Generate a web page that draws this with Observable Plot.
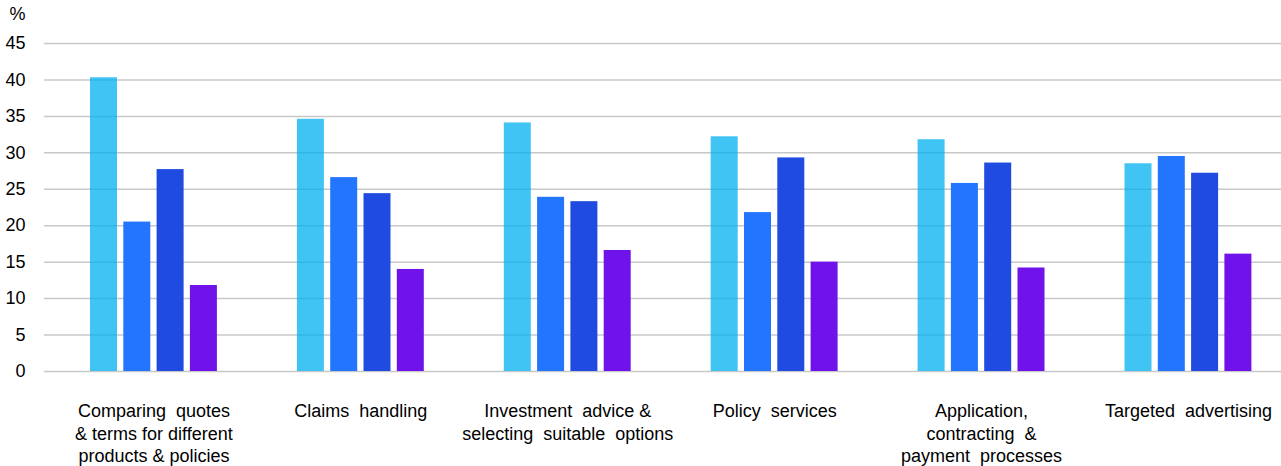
<!DOCTYPE html>
<html>
<head>
<meta charset="utf-8">
<script src="https://cdn.jsdelivr.net/npm/d3@7"></script>
<script src="https://cdn.jsdelivr.net/npm/@observablehq/plot@0.6"></script>
<style>
  html, body { margin: 0; padding: 0; background: #fff; }
  #chart svg { display: block; font-family: "Liberation Sans", Arial, sans-serif; }
</style>
</head>
<body>
<div id="chart"></div>
<script>
const categories = [
  "Comparing quotes & terms for different products & policies",
  "Claims handling",
  "Investment advice & selecting suitable options",
  "Policy services",
  "Application, contracting & payment processes",
  "Targeted advertising"
];
const tickLabels = [
  "Comparing  quotes\n& terms for different\nproducts & policies",
  "Claims  handling",
  "Investment  advice &\nselecting  suitable  options",
  "Policy  services",
  "Application,\ncontracting  &\npayment  processes",
  "Targeted  advertising"
];
const seriesNames = ["Series 1", "Series 2", "Series 3", "Series 4"];
const series1 = [40.3, 34.6, 34.1, 32.2, 31.8, 28.5];
const series2 = [20.5, 26.6, 23.9, 21.8, 25.8, 29.5];
const series3 = [27.7, 24.4, 23.3, 29.3, 28.6, 27.2];
const series4 = [11.8, 14.0, 16.6, 15.0, 14.2, 16.1];
const yTicks = [0, 5, 10, 15, 20, 25, 30, 35, 40, 45];

const allSeries = [series1, series2, series3, series4];
const colors = ["#00B0F0", "#2375FE", "#1F4BE0", "#7013EA"];
const opacities = [0.75, 1, 1, 1];

const rows = allSeries.map((vals, k) =>
  categories.map((c, i) => ({category: c, series: seriesNames[k], value: vals[i]})));

const step = 206.9;
const barMarks = rows.map((data, k) =>
  Plot.barY(data, {
    x: "category",
    y: "value",
    fill: colors[k],
    fillOpacity: opacities[k],
    insetLeft: 40 + 33.3 * k,
    insetRight: step - (67 + 33.3 * k)
  }));

const labelOf = new Map(categories.map((c, i) => [c, tickLabels[i]]));

const chart = Plot.plot({
  width: 1281,
  height: 466,
  marginLeft: 44,
  marginRight: 0,
  marginTop: 43,
  marginBottom: 95,
  style: {fontFamily: "'Liberation Sans', Arial, sans-serif", fontSize: "18px", color: "#000", background: "#fff"},
  x: {type: "band", domain: categories, range: [50, 50 + 6 * step], padding: 0, round: false},
  y: {domain: [0, 45]},
  marks: [
    Plot.gridY(yTicks, {stroke: "#c8c8c8", strokeOpacity: 1, strokeWidth: 1.5}),
    ...barMarks,
    Plot.axisY(yTicks, {tickSize: 0, tickPadding: 19, fontSize: 18, fill: "#000", label: null}),
    Plot.axisX({
      tickSize: 0, tickPadding: 30, fontSize: 18, fill: "#000", label: null,
      lineHeight: 1.25, lineAnchor: "top", textAnchor: "middle",
      tickFormat: d => labelOf.get(d)
    }),
    Plot.text(["%"], {frameAnchor: "top-left", dx: -27, dy: -36, text: d => d, fontSize: 18, fill: "#000", textAnchor: "middle"})
  ]
});
chart.querySelectorAll("text").forEach(t => t.setAttribute("xml:space", "preserve"));
chart.style.whiteSpace = "pre";
document.getElementById("chart").appendChild(chart);
</script>
</body>
</html>
